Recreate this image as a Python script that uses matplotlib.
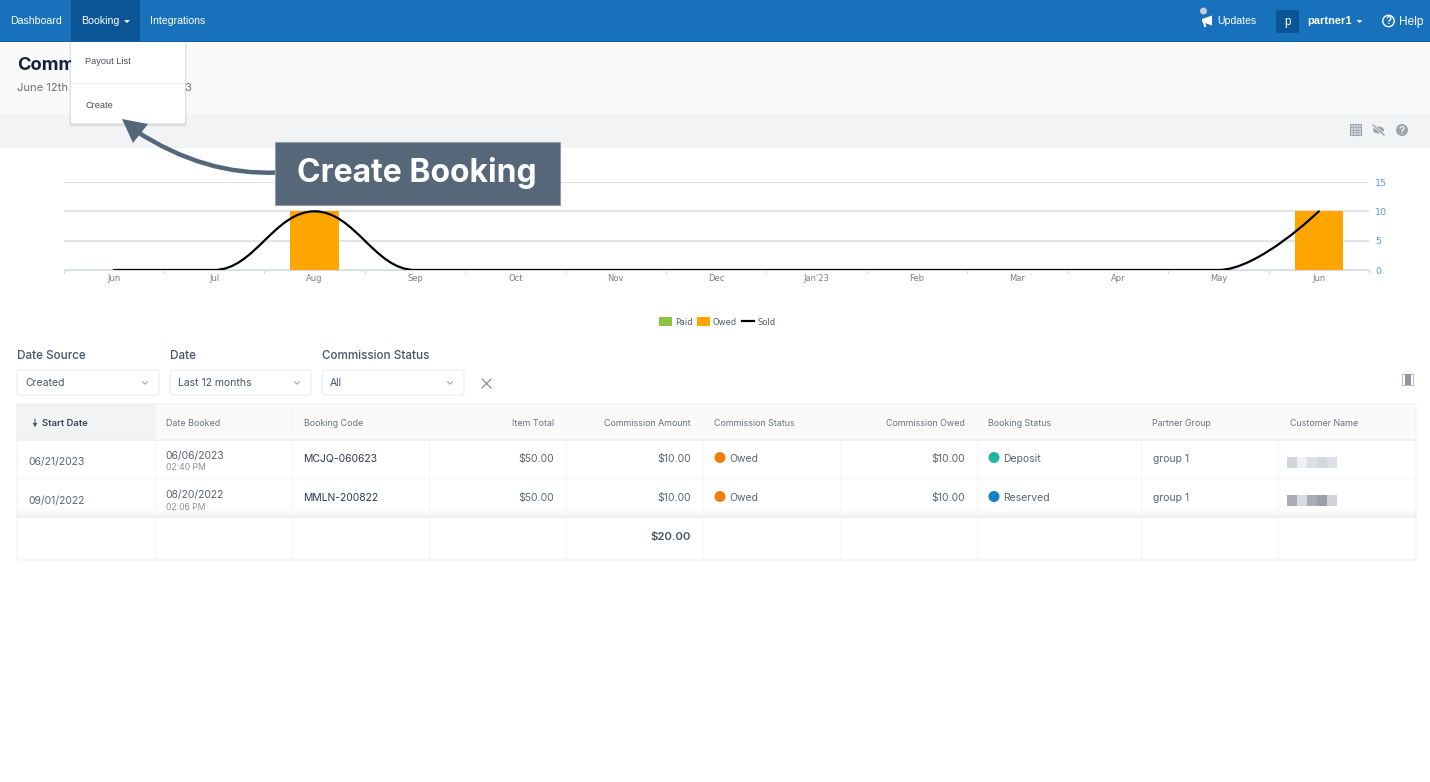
import matplotlib
matplotlib.use("Agg")
import matplotlib.pyplot as plt
from matplotlib.patches import Rectangle, FancyBboxPatch, Circle, Ellipse, PathPatch, Polygon
from matplotlib.path import Path

months = ["Jun", "Jul", "Aug", "Sep", "Oct", "Nov", "Dec", "Jan'23", "Feb", "Mar", "Apr", "May", "Jun"]
paid = [0, 0, 0, 0, 0, 0, 0, 0, 0, 0, 0, 0, 0]
owed = [0, 0, 10, 0, 0, 0, 0, 0, 0, 0, 0, 0, 10]
sold = [0, 0, 10, 0, 0, 0, 0, 0, 0, 0, 0, 0, 10]
y_ticks = [0, 5, 10, 15]

nav_items = ["Dashboard", "Booking", "Integrations"]
menu_items = ["Payout List", "Create"]
filter_labels = ["Date Source", "Date", "Commission Status"]
filter_values = ["Created", "Last 12 months", "All"]
headers = ["Start Date", "Date Booked", "Booking Code", "Item Total", "Commission Amount",
           "Commission Status", "Commission Owed", "Booking Status", "Partner Group", "Customer Name"]
start_dates = ["06/21/2023", "09/01/2022"]
booked_dates = ["06/06/2023", "08/20/2022"]
booked_times = ["02:40 PM", "02:06 PM"]
codes = ["MCJQ-060623", "MMLN-200822"]
item_totals = ["$50.00", "$50.00"]
commission_amounts = ["$10.00", "$10.00"]
commission_status = ["Owed", "Owed"]
commission_owed = ["$10.00", "$10.00"]
booking_status = ["Deposit", "Reserved"]
status_colors = ["#1FB5A0", "#1580C8"]
groups = ["group 1", "group 1"]
commission_total = "$20.00"

W, H = 1430, 782
UI = "Inter"
NAV = "Liberation Sans"
INK = "#4A5568"
col_x = [17, 155, 292, 429, 566, 703, 840, 977, 1141, 1278, 1416]
row_y = [459, 498]


def pixel_axes(zorder):
    a = fig.add_axes([0, 0, 1, 1], zorder=zorder)
    a.set_xlim(0, W)
    a.set_ylim(H, 0)
    a.axis("off")
    a.patch.set_alpha(0)
    return a


def box(a, x0, y0, x1, y1, color, **kw):
    a.add_patch(Rectangle((x0, y0), x1 - x0, y1 - y0, facecolor=color, edgecolor="none", **kw))


def shadow(a, x0, y0, x1, y1):
    for i in range(5, 0, -1):
        a.add_patch(FancyBboxPatch((x0 - i * 0.4, y0), x1 - x0 + i * 0.8, y1 - y0 + i * 0.6,
                                   boxstyle="round,pad=0,rounding_size=2", facecolor="black",
                                   edgecolor="none", alpha=0.022))


def caret(a, x, y, color="white", s=3):
    a.fill([x - s, x + s, x], [y - 1.4, y - 1.4, y + 1.6], color=color, lw=0)


def chevron(a, x, y):
    a.plot([x - 2.5, x, x + 2.5], [y - 1.2, y + 1.2, y - 1.2], color="#8A929E", lw=0.6)


def spline_path(xs, ys):
    # same control points as the spline in the source chart
    left, right = [], []
    n = len(xs)
    for i in range(n):
        if i == 0 or i == n - 1:
            left.append((xs[i], ys[i]))
            right.append((xs[i], ys[i]))
            continue
        lx, ly = (1.5 * xs[i] + xs[i - 1]) / 2.5, (1.5 * ys[i] + ys[i - 1]) / 2.5
        rx, ry = (1.5 * xs[i] + xs[i + 1]) / 2.5, (1.5 * ys[i] + ys[i + 1]) / 2.5
        c = (ry - ly) * (rx - xs[i]) / (rx - lx) + ys[i] - ry
        ly, ry = ly + c, ry + c
        lo, hi = min(ys[i - 1], ys[i]), max(ys[i - 1], ys[i])
        if ly > hi or ly < lo:
            ly = hi if ly > hi else lo
            ry = 2 * ys[i] - ly
        lo, hi = min(ys[i + 1], ys[i]), max(ys[i + 1], ys[i])
        if ry > hi or ry < lo:
            ry = hi if ry > hi else lo
            ly = 2 * ys[i] - ry
        left.append((lx, ly))
        right.append((rx, ry))
    verts = [(xs[0], ys[0])]
    kinds = [Path.MOVETO]
    for i in range(1, n):
        verts += [right[i - 1], left[i], (xs[i], ys[i])]
        kinds += [Path.CURVE4] * 3
    return Path(verts, kinds)


fig = plt.figure(figsize=(W / 100, H / 100), dpi=100, facecolor="white")

# page background
bg = pixel_axes(0)
box(bg, 0, 42, W, 113, "#FAFAFB")
box(bg, 0, 113, W, 148, "#F2F3F5")
box(bg, 0, 0, W, 41, "#1771BB")
box(bg, 0, 40.5, W, 42, "#0F62A8")
box(bg, 71, 0, 140, 41, "#0B5596")
bg.text(17, 65, "Commissions", fontsize=13.2, fontweight="bold", color="#14213D", family=UI, va="center")
bg.text(17, 88, "June 12th 2022 - June 12th 2023", fontsize=8.1, color="#6B7280", family=UI, va="center")

# chart
ax = fig.add_axes([63.5 / W, 1 - 270 / H, (1369 - 63.5) / W, 88 / H], zorder=1)
x = list(range(len(months)))
bars_paid = ax.bar(x, paid, width=0.48, color="#8CC63F", label="Paid")
bars_owed = ax.bar(x, owed, width=0.48, color="#FFA500", label="Owed")
ax.add_patch(PathPatch(spline_path(x, sold), facecolor="none", edgecolor="black", lw=1.6, capstyle="round", zorder=3))
handle_line, = ax.plot([], [], color="black", lw=1.6, label="Sold")
ax.set_xlim(-0.5, 12.5)
ax.set_ylim(0, 15)
ax.patch.set_alpha(0)
ax.yaxis.tick_right()
ax.set_yticks(y_ticks)
ax.set_yticklabels(y_ticks, fontsize=6.8, color="#5B9BD5", family="DejaVu Sans")
ax.tick_params(axis="y", length=0, pad=4.3)
ax.set_xticks(x)
ax.set_xticklabels(months, fontsize=6, color="#7A7F87", family="DejaVu Sans")
ax.tick_params(axis="x", length=0, pad=3)
for edge in [i - 0.5 for i in range(14)]:
    ax.plot([edge, edge], [0, -0.45], color="#D5DAE5", lw=0.8, clip_on=False)
ax.grid(axis="y", color="#DCDEE2", lw=1.2)
ax.set_axisbelow(True)
for side in ["top", "left", "right"]:
    ax.spines[side].set_visible(False)
ax.spines["bottom"].set_color("#D5DAE5")
ax.spines["bottom"].set_zorder(1)
ax.legend([bars_paid, bars_owed, handle_line], ["Paid", "Owed", "Sold"], ncols=3, loc="center",
          bbox_to_anchor=((717.5 - 63.5) / 1305.5, (270 - 322) / 88), frameon=False,
          prop={"family": "DejaVu Sans", "size": 6}, labelcolor="#555C66", handlelength=1.45, handleheight=1.2,
          columnspacing=0.6, handletextpad=0.4)

# filters and table
ui = pixel_axes(2)
filter_x = [(17, 159), (170, 311), (322, 464)]
for (x0, x1), lab, val in zip(filter_x, filter_labels, filter_values):
    ui.text(x0, 356, lab, fontsize=8.4, fontweight="medium", color="#46536A", family=UI, va="center")
    ui.add_patch(FancyBboxPatch((x0, 370), x1 - x0, 25, boxstyle="round,pad=0,rounding_size=3",
                                facecolor="white", edgecolor="#EBECEF", lw=0.8))
    ui.text(x0 + 8, 383.5, val, fontsize=7.5, color=INK, family=UI, va="center")
    chevron(ui, x1 - 14, 383)
ui.plot([482, 491], [379, 388], color="#7A818C", lw=0.8)
ui.plot([482, 491], [388, 379], color="#7A818C", lw=0.8)
# column picker icon
ui.add_patch(Rectangle((1402, 373.5), 11, 11.5, facecolor="white", edgecolor="#B5B9C2", lw=0.7))
box(ui, 1404.5, 374, 1410.5, 384.5, "#9297A4")

box(ui, 17, 404, 1416, 440, "#FAFAFB")
box(ui, 17, 404, 155, 440, "#F2F3F5")
box(ui, 17, 439, 1416, 441, "#F0F1F3")
for cx in col_x[1:-1]:
    ui.plot([cx, cx], [404, 560], color="#F5F6F7", lw=0.8)
ui.plot([17, 1416], [478, 478], color="#F7F8F9", lw=0.8)
ui.add_patch(FancyBboxPatch((17, 404), 1399, 156, boxstyle="round,pad=0,rounding_size=2",
                            facecolor="none", edgecolor="#F0F1F3", lw=0.8))
for i in range(8):
    box(ui, 17, 509 + i, 1416, 510 + i, "#000000", alpha=0.005 + i * 0.006)
ui.plot([17, 1416], [517, 517], color="#ECEDF0", lw=0.7)

right_cols = {3, 4, 6}
for i, h in enumerate(headers):
    if i == 0:
        ui.annotate("", xy=(35, 427), xytext=(35, 419), arrowprops=dict(arrowstyle="-|>,head_width=0.12,head_length=0.2", color="#4A5568", lw=0.7, shrinkA=0, shrinkB=0))
        ui.text(42, 423, h, fontsize=6.8, fontweight="semibold", color="#3C4658", family=UI, va="center")
    elif i in right_cols:
        ui.text(col_x[i + 1] - 12, 423, h, fontsize=6.4, color="#6B7280", family=UI, va="center", ha="right")
    else:
        ui.text(col_x[i] + 11.5, 423, h, fontsize=6.4, color="#6B7280", family=UI, va="center")

for r, y in enumerate(row_y):
    ui.text(28.5, y + 3, start_dates[r], fontsize=7.5, color="#5A6473", family=UI, va="center")
    ui.text(165.5, y - 3, booked_dates[r], fontsize=7.5, color="#5A6473", family=UI, va="center")
    ui.text(165.5, y + 9, booked_times[r], fontsize=6.2, color="#8B919B", family=UI, va="center")
    ui.text(303, y, codes[r], fontsize=7.5, color="#2F3A4C", family=UI, va="center")
    ui.text(554, y, item_totals[r], fontsize=7.5, color="#5A6473", family=UI, va="center", ha="right")
    ui.text(691, y, commission_amounts[r], fontsize=7.5, color="#5A6473", family=UI, va="center", ha="right")
    ui.add_patch(Circle((720, y - 1.5), 5.5, facecolor="#F07F09", edgecolor="none"))
    ui.text(729, y, commission_status[r], fontsize=7.5, color="#5A6473", family=UI, va="center")
    ui.text(965, y, commission_owed[r], fontsize=7.5, color="#5A6473", family=UI, va="center", ha="right")
    ui.add_patch(Circle((994, y - 1.5), 5.5, facecolor=status_colors[r], edgecolor="none"))
    ui.text(1003, y, booking_status[r], fontsize=7.5, color="#5A6473", family=UI, va="center")
    ui.text(1153, y, groups[r], fontsize=7.5, color="#5A6473", family=UI, va="center")
ui.text(691, 537, commission_total, fontsize=8.2, fontweight="semibold", color="#46536A", family=UI, va="center", ha="right")

# blurred customer names
for x0, shade in zip(range(1287, 1335, 10), ["#D2D5DA", "#EEF0F2", "#DDDFE3", "#D5D8DD", "#DDE0E4"]):
    box(ui, x0, 457, x0 + 10, 468, shade)
for x0, shade in zip(range(1287, 1335, 10), ["#A9ACB4", "#D9DBDF", "#A9ACB4", "#9C9FA8", "#CFD2D7"]):
    box(ui, x0, 495, x0 + 10, 506, shade)

# toolbar icons
ui.add_patch(Rectangle((1350, 124), 11, 11, facecolor="#D5D8DE", edgecolor="#9EA3AD", lw=0.8))
for k in range(1, 4):
    ui.plot([1350 + k * 2.75] * 2, [124, 135], color="#9EA3AD", lw=0.5)
    ui.plot([1350, 1361], [124 + k * 2.75] * 2, color="#9EA3AD", lw=0.5)
ui.add_patch(Ellipse((1378.5, 130), 11, 7, facecolor="#9EA3AD", edgecolor="none"))
ui.plot([1373, 1384], [125, 135], color="#F2F3F5", lw=2)
ui.plot([1373, 1384], [125, 135], color="#9EA3AD", lw=1)
ui.add_patch(Circle((1402, 130), 6, facecolor="#9EA3AD", edgecolor="none"))
ui.text(1402, 130.5, "?", fontsize=7, fontweight="bold", color="#F2F3F5", family=NAV, ha="center", va="center")

# navbar text
nav_x = [10, 81, 150]
for nx, item in zip(nav_x, nav_items):
    ui.text(nx, 21, item, fontsize=7.6, color="white", family=NAV, va="center")
caret(ui, 127, 21.5)
ui.add_patch(Circle((1203.5, 11), 3.5, facecolor="#C6CBD3", edgecolor="none"))
ui.fill([1202, 1212, 1212, 1202], [19, 15.5, 25.5, 22], color="white", lw=0)
ui.plot([1204, 1205], [22, 26], color="white", lw=1.5)
ui.text(1217, 21, "Updates", fontsize=7.6, color="white", family=NAV, va="center")
ui.add_patch(FancyBboxPatch((1276, 10), 23, 23, boxstyle="round,pad=0,rounding_size=2", facecolor="#0B5596", edgecolor="none"))
ui.text(1287.5, 22, "p", fontsize=8.5, color="white", family=NAV, ha="center", va="center")
ui.text(1307.5, 21, "partner1", fontsize=7.9, fontweight="bold", color="white", family=NAV, va="center")
caret(ui, 1359.5, 21.5)
ui.add_patch(Circle((1388.5, 21), 5.7, facecolor="none", edgecolor="white", lw=1))
ui.text(1388.5, 21.3, "?", fontsize=7, fontweight="bold", color="white", family=NAV, ha="center", va="center")
ui.text(1399, 21.5, "Help", fontsize=8.6, color="white", family=NAV, va="center")

# dropdown menu and callout on top of the page
top = pixel_axes(3)
shadow(top, 71, 42, 185, 124)
top.add_patch(FancyBboxPatch((71, 42), 114, 81.5, boxstyle="round,pad=0,rounding_size=2", facecolor="white", edgecolor="none"))
box(top, 71, 82.5, 185, 84, "#F2F3F5")
top.text(85, 61.5, menu_items[0], fontsize=6.6, color="#4A4F57", family=NAV, va="center")
top.text(85, 105, menu_items[1], fontsize=6.6, color="#4A4F57", family=NAV, va="center")

shaft = Path([(278, 172.5), (205, 176), (136, 131)], [Path.MOVETO, Path.CURVE3, Path.CURVE3])
top.add_patch(PathPatch(shaft, facecolor="none", edgecolor="#54677A", lw=3.2))
top.add_patch(Polygon([(122, 119), (148, 124), (133, 143)], closed=True, facecolor="#54677A", edgecolor="none"))
top.add_patch(Rectangle((275, 142), 285, 63, facecolor="#56677A", edgecolor="#8F9CAA", lw=0.8))
top.text(417, 173, "Create Booking", fontsize=23, fontweight="bold", color="white", family=UI, ha="center", va="center")

fig.savefig("out.png", dpi=100, facecolor="white")
